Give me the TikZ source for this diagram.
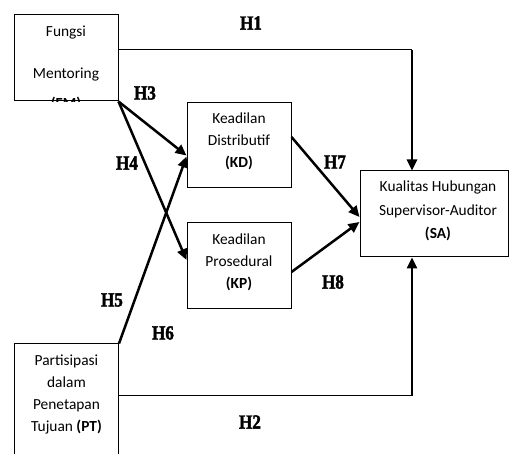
\documentclass[tikz,border=0pt]{standalone}
\usepackage{fontspec}
\setmainfont{Carlito}
\newfontfamily\hypfont[FakeStretch=0.85,BoldFeatures={FakeBold=2}]{Liberation Serif}
\usetikzlibrary{arrows.meta}

\tikzset{
  box/.style={draw, line width=1pt, minimum width=104pt, inner sep=0pt},
  boxtext/.style={align=center, inner sep=0pt, font=\fontsize{15.4}{22}\selectfont},
  hyp/.style={font=\hypfont\bfseries\fontsize{20}{20}\selectfont, inner sep=0pt},
  arr/.style={line width=2.5pt, -{Triangle[length=11pt,width=10pt]}},
  thinline/.style={line width=1pt}
}

\begin{document}
\begin{tikzpicture}[x=1pt,y=-1pt]
\useasboundingbox (0,0) rectangle (509,454);
\clip (0,0) rectangle (509,454);

% boxes
\node[box, minimum height=86pt] (fm) at (66,58) {};
\node[box, minimum height=85pt] (kd) at (239,145.5) {};
\node[box, minimum height=86pt] (kp) at (239,266) {};
\node[box, minimum width=148pt, minimum height=86pt] (sa) at (434,214) {};
\node[box, minimum height=126pt] (pt) at (66.5,407) {};

% box texts
\begin{scope}
\clip (fm.south west) rectangle (fm.north east);
\node[boxtext] (fmtop) at (66,33) {Fungsi};
\node[boxtext] (fmmid) at (66,75) {Mentoring};
\node[boxtext] (fmbot) at (66,104) {\textbf{(FM)}};
\end{scope}
\node[boxtext] (kdtext) at (239,141.5) {Keadilan\\Distributif\\\textbf{(KD)}};
\node[boxtext] (kptext) at (239,262.5) {Keadilan\\Prosedural\\\textbf{(KP)}};
\node[boxtext, font=\fontsize{15.4}{23.5}\selectfont] (satext) at (438,211) {Kualitas Hubungan\\Supervisor-Auditor\\\textbf{(SA)}};
\node[boxtext] (pttext) at (66.5,394.5) {Partisipasi\\dalam\\Penetapan\\Tujuan \textbf{(PT)}};

% corners of H1 and H2
\coordinate (c1) at (412,50);
\coordinate (c2) at (412,396);

% connectors
\draw[thinline] (fm.east |- c1) -- (c1);
\draw[arr] (c1) -- (sa.north -| c1);
\draw[thinline] (pt.east |- c2) -- (c2);
\draw[arr] (c2) -- (sa.south -| c2);
\draw[arr] (fm.south east) -- ([yshift=-10pt]kd.west);
\draw[arr] (fm.south east) -- ([yshift=6pt]kp.west);
\draw[arr] (pt.north east) -- ([yshift=-11pt]kd.west);
\draw[arr] ([yshift=8.5pt]kd.east) -- ([yshift=-3pt]sa.west);
\draw[arr] ([yshift=-6pt]kp.east) -- ([yshift=-8pt]sa.west);

% labels
\node[hyp] (h1) at (251,23) {H1};
\node[hyp] (h2) at (250,422) {H2};
\node[hyp] (h3) at (145,93) {H3};
\node[hyp] (h4) at (127,163) {H4};
\node[hyp] (h5) at (112,300) {H5};
\node[hyp] (h6) at (163,333) {H6};
\node[hyp] (h7) at (335,162) {H7};
\node[hyp] (h8) at (333,282) {H8};
\end{tikzpicture}
\end{document}
